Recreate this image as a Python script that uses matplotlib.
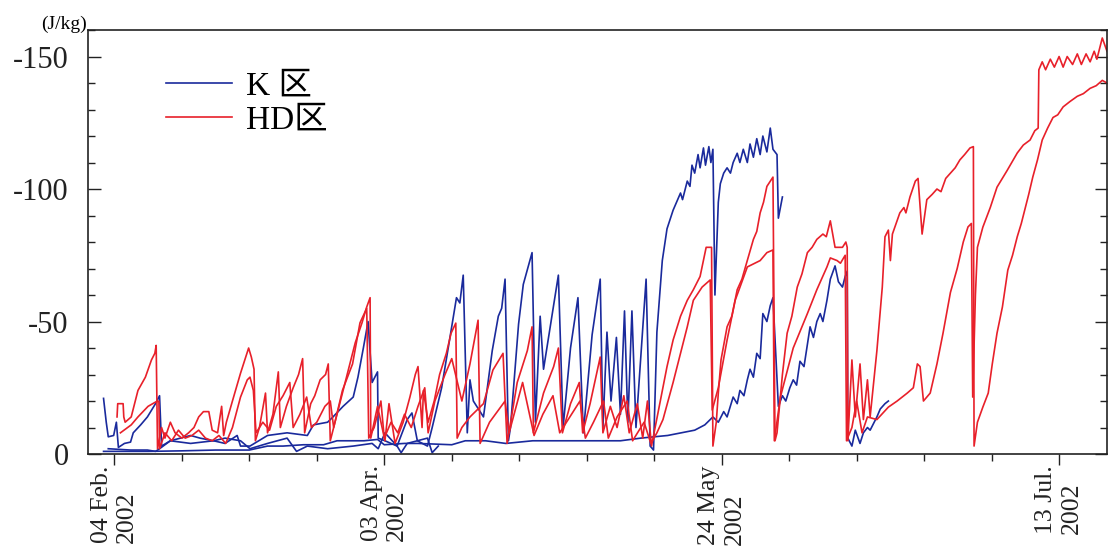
import numpy as np
import matplotlib
matplotlib.use('Agg')
import matplotlib.pyplot as plt
from matplotlib.ticker import FixedLocator, MultipleLocator

plt.rcParams['font.family'] = ['Liberation Serif', 'Noto Sans CJK SC']
plt.rcParams['axes.unicode_minus'] = False

# x = record index (0 = 04 Feb 2002, one minor tick every 10 records)
date_ticks = [0, 40, 90, 140]
date_labels = ['04 Feb.\n2002', '03 Apr.\n2002', '24 May\n2002', '13 Jul.\n2002']
minor_ticks = [0, 10, 20, 30, 40, 50, 60, 70, 80, 90, 100, 110, 120, 130, 140]
y_ticks = [0, -50, -100, -150]
y_labels = ['0', '-50', '-100', '-150']

# K plot, shallow sensor
k1 = [(-1.6,-21),(-1.2,-12),(-0.9,-6.5),(-0.1,-7),(0.3,-12),(0.6,-2.5),(1.5,-4),(2.4,-4.5),(2.8,-8),
      (3.9,-11),(4.9,-14),(6.1,-19),(6.7,-22),(7.0,-3),(8.3,-5),(9.8,-6),(11.3,-7),(12.7,-6),(14.7,-5),
      (16.4,-4),(18.2,-7),(18.7,-3),(20.1,-3),(22.7,-7),(25.6,-8),(28.6,-7),(29.5,-11),(31.6,-12),
      (32.4,-14),(33.9,-18),(35.4,-21.5),(36.1,-29),(36.9,-40),(37.6,-50),(38.2,-27),(39.0,-31),(39.1,-6),
      (40.1,-5),(41.9,-3),(43.4,-13),(44.1,-15.5),(44.9,-5),(46.4,-3),(47.1,-10),(48.5,-25),(49.8,-45),
      (50.7,-59),(51.2,-57),(51.7,-67.5),(52.3,-8),(52.7,-28),(53.2,-20),(54.7,-14),(56.0,-39),(56.9,-52),
      (57.4,-55),(57.9,-66),(58.4,-5),(58.7,-10),(59.9,-49),(60.6,-64),(61.9,-76),(62.4,-12),(63.1,-52),
      (63.6,-32),(65.8,-67.5),(66.5,-10),(67.6,-40),(68.7,-59),(69.5,-8),(70.8,-45),(72.0,-66),(72.4,-10),
      (73.0,-46),(73.6,-20),(74.4,-44),(75.0,-15),(75.6,-54),(76.1,-12),(76.7,-54),(77.3,-10),(78.8,-66),
      (79.4,-3),(79.9,-1.5),(80.4,-46),(81.2,-73),(81.9,-85),(82.8,-92),(83.9,-98.5),(84.2,-96),
      (84.9,-103),(85.3,-101),(85.6,-109),(86.0,-106),(86.5,-113),(86.8,-108),(87.3,-115.5),(87.6,-109),
      (88.1,-116),(88.4,-110),(88.7,-115),(89.0,-60),(89.5,-95),(89.8,-102),(90.3,-106),(90.8,-108),
      (91.3,-106),(91.7,-110),(92.3,-113.5),(92.7,-110),(93.2,-115),(93.8,-110),(94.2,-117),(94.7,-112),
      (95.2,-119),(95.7,-113),(96.1,-120),(96.7,-114),(97.2,-123),(97.6,-115),(98.2,-113),(98.4,-89),
      (99.0,-97)]

# K plot, middle sensor (early records only)
k2 = [(-0.9,-2),(2.4,-1.5),(4.9,-1.5),(6.1,-1),(6.7,-2),(8.3,-5),(11.3,-4),(14.7,-5),(16.4,-6),(18.7,-5),
      (20.1,-2),(22.7,-4),(25.6,-6),(27.0,-1),(28.6,-3),(31.6,-2),(35.4,-3),(38.2,-4),(39.1,-2),(40.1,-8),
      (41.9,-3),(42.5,-0.5),(43.4,-4),(46.4,-6),(47.1,-0.5),(48.0,-3)]

# K plot, deep sensor
k3 = [(-1.6,-1),(5,-1),(10,-1.2),(15,-1.5),(20,-1.5),(22.7,-3),(25,-3),(28,-3.5),(31,-3.5),(33,-5),(37,-5),
      (39,-5.5),(40,-3.5),(43,-4),(45,-4),(50,-3.5),(52,-5),(55,-5),(58,-4),(62,-5),(65,-5),(70,-5),(75,-5),
      (78,-6),(80,-6.5),(82,-7),(84,-8),(86,-9),(87.5,-11),(88.7,-14),(89.5,-12),(90.3,-16),(90.8,-14),
      (91.7,-21.5),(92.3,-19),(92.7,-24),(93.3,-22),(93.8,-28),(94.2,-32),(94.7,-29),(95.2,-38),(95.7,-36),
      (96.1,-53),(96.7,-50),(97.2,-56),(97.6,-59),(98.4,-18),(99.0,-22),(99.5,-20),(100.1,-25),(100.6,-28),
      (101.1,-26),(101.6,-35),(102.2,-33),(103.1,-48),(103.6,-44),(104.1,-50),(104.6,-53),(105.0,-50),
      (105.6,-58),(106.1,-66),(106.8,-71),(107.3,-65),(107.9,-63),(108.3,-67),(108.6,-69),(108.7,-6),
      (109.3,-3),(109.8,-9),(110.5,-4),(111.0,-8),(111.6,-10),(112.0,-9),(113.0,-14),(113.5,-17),
      (114.2,-19),(114.7,-20)]

# HD plot, upper sensor
hd1 = [(0.4,-14),(0.5,-19),(1.3,-19),(1.4,-14),(1.6,-12),(2.5,-14),(3.5,-24),(4.6,-29),(5.5,-35.5),(6.0,-38),
       (6.2,-41),(6.4,-2),(7.0,-10),(7.5,-6),(8.3,-12),(9.0,-8),(10.0,-6),(11.0,-8),(11.8,-10),(12.5,-14),
       (13.2,-16),(14.0,-16),(14.5,-9),(15.3,-8),(15.9,-18),(16.2,-7),(16.6,-12),(17.5,-20),(18.7,-30.5),
       (19.9,-40),(20.3,-36.6),(20.7,-32),(20.9,-5),(21.5,-10),(22.4,-23),(22.7,-8),(23.5,-15),(24.3,-31),
       (24.6,-10),(25.5,-18),(26.5,-25),(27.3,-30),(27.9,-36),(28.2,-8),(29.1,-19),(29.7,-22),(30.5,-28),
       (31.3,-30),(31.7,-34),(32.0,-5),(33.3,-18),(34.5,-30),(35.7,-42),(36.7,-49.5),(37.4,-55.5),(37.9,-59),
       (38.0,-6),(39.0,-18),(40.1,-5),(40.7,-19),(41.6,-4),(42.8,-12),(43.8,-21.5),(44.6,-30),(45.0,-33),
       (45.6,-10),(45.8,-24),(46.5,-12),(47.4,-20),(48.2,-30),(49.2,-38),(49.9,-45.6),(50.6,-49.4),(50.8,-6),
       (51.5,-10),(52.7,-14),(54.7,-19),(56.1,-31.7),(57.6,-38),(58.2,-4),(59.7,-27),(61.2,-39),(61.9,-48),
       (62.1,-8),(63.6,-23),(65.1,-33),(65.8,-40),(66.4,-8),(67.6,-19),(68.9,-27),(69.4,-8),(70.5,-19),
       (72.0,-36.6),(72.4,-8),(73.5,-18),(74.5,-10),(75.5,-22),(76.3,-8),(77.5,-19),(78.3,-6),(79.0,-20),
       (79.6,-3),(80.9,-20),(81.9,-33),(82.8,-43),(83.9,-52),(84.9,-58),(85.8,-62),(86.8,-67),(87.7,-78),
       (88.5,-78),(88.7,-3),(89.2,-12),(89.5,-23),(89.9,-35.5),(90.8,-48),(91.5,-52),(92.3,-62),(93.0,-66),
       (93.8,-73),(94.7,-81),(95.2,-84),(95.7,-91),(96.2,-95),(96.7,-101),(97.6,-104.5),(97.9,-5),(98.2,-8),
       (99.0,-30),(99.7,-45.6),(100.4,-52),(101.2,-63),(101.9,-68),(102.7,-76),(103.4,-78),(104.1,-81),
       (105.0,-83),(105.5,-82),(106.1,-88),(106.8,-78),(107.9,-78),(108.4,-80),(108.6,-78),(108.7,-5),
       (109.3,-35.5),(109.8,-14),(110.5,-34),(111.0,-13),(111.6,-28),(112.0,-14),(113.0,-39),(113.8,-63),
       (114.2,-82),(114.7,-84.5),(115.0,-73),(115.3,-83),(116.4,-91),(117.0,-93),(117.3,-91),(117.9,-97),
       (118.7,-103),(119.1,-104),(119.7,-83),(120.4,-96),(121.2,-98),(121.9,-100),(122.5,-99),(123.2,-104),
       (123.9,-106),(124.6,-108),(125.3,-111),(126.0,-113),(126.8,-115.5),(127.3,-116),(127.4,-3),
       (127.9,-12),(128.7,-17.7),(129.5,-23),(130.1,-34),(130.8,-45.6),(131.6,-55.5),(132.4,-69.4),
       (133.1,-75),(133.8,-82),(134.4,-87),(135.0,-93),(135.5,-98),(136.1,-104.5),(136.8,-111),
       (137.5,-118.5),(138.3,-123),(139.1,-127),(139.8,-128),(140.6,-131),(141.6,-133),(142.7,-135),
       (143.6,-136),(144.6,-138),(145.5,-139),(146.4,-141),(147.1,-140)]

# HD plot, lower sensor
hd2 = [(0.9,-8),(2.5,-11),(3.5,-14),(5.0,-18),(6.1,-19.6),(6.6,-20),(6.7,-2),(7.5,-8),(8.5,-5),(9.5,-9),
       (10.5,-6),(11.5,-7),(12.5,-9),(13.5,-6),(14.5,-5),(15.5,-7),(16.5,-4),(17.5,-10),(18.7,-21.5),
       (19.7,-28),(20.1,-29),(20.6,-24),(21.0,-8),(22.0,-12),(23.0,-9),(24.0,-18),(25.0,-22),(26.0,-27),
       (26.5,-10),(27.5,-15),(28.5,-21.5),(29.2,-10),(30.0,-12),(31.2,-18),(32.0,-20),(32.5,-10),(33.8,-24),
       (35.3,-34),(36.4,-49.5),(37.4,-55),(37.7,-6),(38.5,-10),(39.5,-20),(40.0,-6),(41.0,-12),(42.0,-8),
       (43.0,-15),(44.0,-10),(45.0,-18),(46.0,-25),(46.5,-8),(47.5,-20),(49.0,-30),(50.0,-36),(51.5,-20),
       (52.7,-34),(53.9,-50.5),(54.2,-4),(55.6,-12),(57.9,-20),(58.5,-8),(60.5,-27),(62.2,-7),(63.5,-15),
       (65.0,-22),(66.0,-8),(67.5,-14),(69.0,-20),(69.8,-6),(71.0,-12),(72.5,-20),(73.2,-6),(74.5,-14),
       (76.0,-20),(76.8,-5),(78.5,-12),(79.5,-4),(80.4,-8),(81.3,-13),(82.8,-27),(83.9,-38),(84.9,-48),
       (85.8,-58),(87.1,-63),(88.3,-65.7),(88.6,-16.6),(89.5,-25),(90.8,-43),(92.0,-58),(93.8,-70.6),
       (95.7,-73),(96.7,-76),(97.6,-77),(97.8,-5),(98.7,-21.5),(100.6,-40),(102.7,-53),(104.1,-62),
       (105.6,-70.6),(106.1,-74),(107.1,-73),(107.6,-72),(108.3,-75),(108.5,-5),(109.3,-10),(110.0,-20),
       (110.8,-8),(111.6,-14),(113.0,-13),(114.7,-17.7),(116.0,-20),(117.5,-23),(118.4,-25),(119.0,-34),
       (119.4,-33),(119.9,-20),(120.9,-23),(121.9,-34),(122.8,-45.6),(123.9,-61),(124.9,-70),(125.8,-80),
       (126.5,-85.7),(127.0,-87),(127.2,-21.5),(127.6,-60),(127.9,-78),(128.7,-85.6),(129.8,-93),
       (130.8,-100.7),(132.3,-107),(133.8,-113.6),(134.7,-116.6),(135.7,-118.5),(136.4,-122),(136.9,-123),
       (137.0,-145),(137.5,-148),(138.0,-145),(138.7,-149),(139.3,-146),(140.0,-150),(140.6,-146),
       (141.2,-150),(142.0,-147),(142.7,-151),(143.3,-147),(144.0,-151),(144.6,-148),(145.2,-152),
       (145.6,-149),(146.1,-154),(146.4,-157),(147.1,-152)]

blue = '#1a2a9c'
red = '#e8202a'

fig = plt.figure(figsize=(11.1, 5.5), dpi=100)
ax = fig.add_axes([0.0793, 0.1745, 0.918, 0.7709])

series = [(k1, blue, 'K 区'), (k2, blue, None), (k3, blue, None),
          (hd1, red, 'HD区'), (hd2, red, None)]
for pts, c, lab in series:
    arr = np.array(pts)
    ax.plot(arr[:, 0], arr[:, 1], color=c, lw=1.2, label=lab)

ax.set_xlim(-3.9, 147.1)
ax.set_ylim(0, -160)

ax.set_xticks(date_ticks)
ax.set_xticklabels(date_labels, rotation=90, ha='center', va='top',
                   multialignment='left', fontsize=18.5)
ax.xaxis.set_minor_locator(FixedLocator(minor_ticks))
ax.set_yticks(y_ticks)
ax.set_yticklabels(y_labels, fontsize=22)
ax.yaxis.set_minor_locator(MultipleLocator(10))

ax.tick_params(axis='y', which='both', direction='in', left=True, right=True, pad=14, colors='#222')
ax.tick_params(axis='y', which='major', length=9, width=1.0)
ax.tick_params(axis='y', which='minor', length=5, width=1.0)
ax.tick_params(axis='x', which='both', direction='out', top=False, pad=0, colors='#222')
ax.tick_params(axis='x', which='major', length=8, width=1.0)
ax.tick_params(axis='x', which='minor', length=5, width=1.0)

for s in ax.spines.values():
    s.set_linewidth(1.2)
    s.set_color('#222')

ax.text(-0.001, 0.993, '(J/kg)', transform=ax.transAxes, ha='right', va='bottom', fontsize=14)

ax.legend(loc='upper left', bbox_to_anchor=(0.063, 0.935), frameon=False,
          fontsize=24, handlelength=2.0, handletextpad=0.4, labelspacing=0.12, borderaxespad=0)

fig.savefig('out.png', dpi=100)
